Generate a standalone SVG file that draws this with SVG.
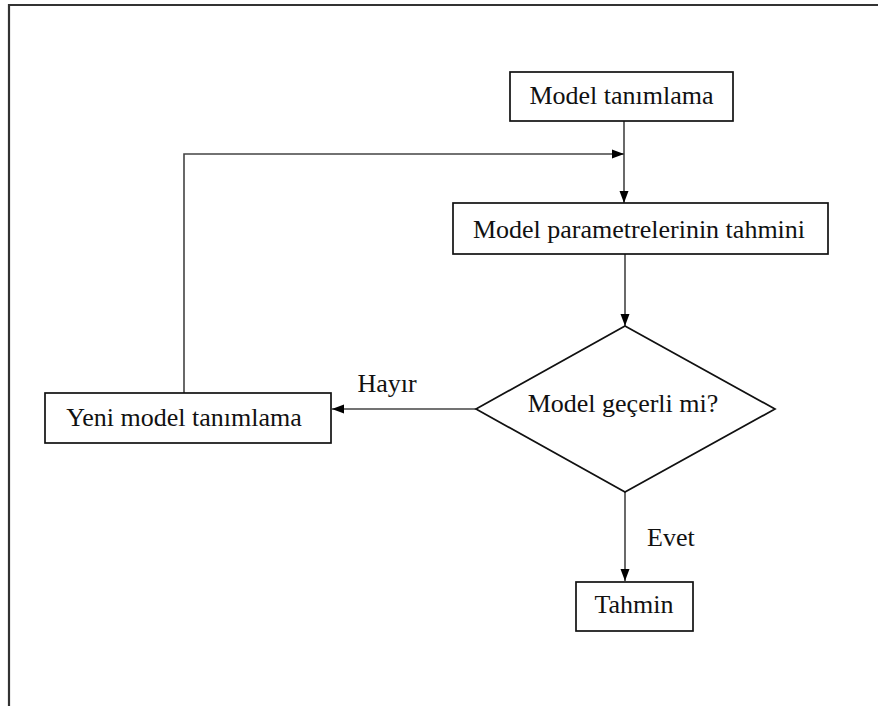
<svg xmlns="http://www.w3.org/2000/svg" width="878" height="706" viewBox="0 0 878 706">
<style>
.box{fill:#fff;stroke:#111;stroke-width:1.7}
.frame{fill:none;stroke:#333;stroke-width:2.2}
.conn{fill:none;stroke:#444;stroke-width:1.6}
text{font-family:"Liberation Serif","Times New Roman",serif;font-size:26px;fill:#111}
.c{text-anchor:middle}
</style>
<defs>
<marker id="ah" viewBox="0 0 12 10" refX="12" refY="5" markerWidth="12" markerHeight="10" markerUnits="userSpaceOnUse" orient="auto">
<path d="M0,0.5 L12,5 L0,9.5 Z" fill="#000"/>
</marker>
</defs>
<rect width="878" height="706" fill="#fff"/>
<path class="frame" d="M9,706 V5 H878"/>
<g id="connectors">
<line class="conn" x1="624" y1="121" x2="624" y2="203" marker-end="url(#ah)"/>
<polyline class="conn" points="184,393 184,154 624,154" marker-end="url(#ah)"/>
<line class="conn" x1="625" y1="254" x2="625" y2="326" marker-end="url(#ah)"/>
<line class="conn" x1="476" y1="409" x2="332" y2="409" marker-end="url(#ah)"/>
<line class="conn" x1="625" y1="492" x2="625" y2="581" marker-end="url(#ah)"/>
<text x="387" y="392" class="c">Hayır</text>
<text x="647" y="546">Evet</text>
</g>
<g id="model-tanimlama">
<rect class="box" x="510" y="72" width="223" height="49"/>
<text x="621.5" y="104" class="c">Model tanımlama</text>
</g>
<g id="parametre-tahmini">
<rect class="box" x="453" y="203" width="375" height="51"/>
<text x="639" y="238" class="c">Model parametrelerinin tahmini</text>
</g>
<g id="model-gecerli">
<polygon class="box" points="625,326 775,409 625,492 476,409"/>
<text x="623" y="412" class="c">Model geçerli mi?</text>
</g>
<g id="yeni-model">
<rect class="box" x="45" y="393" width="286" height="50"/>
<text x="184" y="426" class="c">Yeni model tanımlama</text>
</g>
<g id="tahmin">
<rect class="box" x="576" y="582" width="117" height="49"/>
<text x="634" y="613" class="c">Tahmin</text>
</g>
</svg>
